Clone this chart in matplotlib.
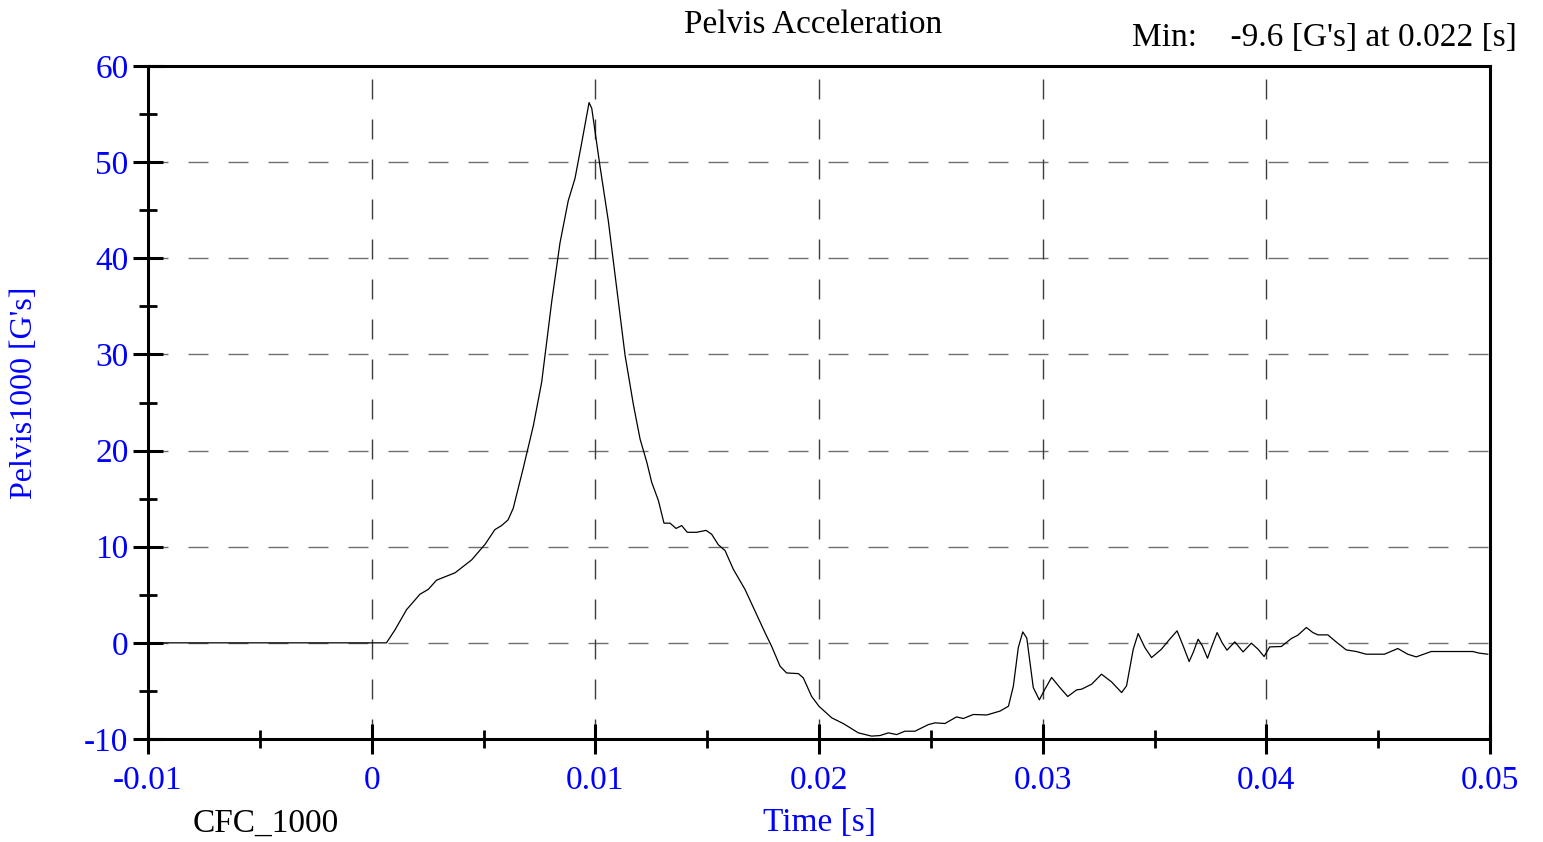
import numpy as np
import matplotlib.pyplot as plt
from matplotlib.ticker import MultipleLocator, FixedFormatter, FixedLocator

# Pelvis acceleration trace (CFC 1000)
time_s = [
    -0.01, 0.0, 0.00066, 0.00104, 0.00156, 0.00216, 0.00253, 0.0029, 0.00373,
    0.00447, 0.00507, 0.00551, 0.00581, 0.0061, 0.00633, 0.00678, 0.00723,
    0.0076, 0.00805, 0.00842, 0.00879, 0.00909, 0.00939, 0.00972, 0.00984,
    0.0102, 0.01058, 0.01095, 0.01133, 0.0117, 0.012, 0.0123, 0.01252,
    0.01282, 0.01307, 0.01334, 0.01361, 0.01386, 0.01411, 0.01453, 0.01495,
    0.0152, 0.0155, 0.0158, 0.01617, 0.01669, 0.01714, 0.01759, 0.01788,
    0.01826, 0.01855, 0.01908, 0.0193, 0.01967, 0.02, 0.02057, 0.02109,
    0.02176, 0.02235, 0.02273, 0.0231, 0.02347, 0.02384, 0.02429, 0.02489,
    0.02519, 0.02563, 0.02615, 0.02645, 0.0269, 0.0275, 0.02809, 0.02847,
    0.02869, 0.02891, 0.02911, 0.02929, 0.02958, 0.02985, 0.0301, 0.0304,
    0.03077, 0.03112, 0.03152, 0.03174, 0.03219, 0.03263, 0.03308, 0.03353,
    0.03375, 0.03405, 0.03427, 0.03457, 0.03487, 0.03531, 0.03568, 0.03601,
    0.03628, 0.03655, 0.03673, 0.03695, 0.03714, 0.03737, 0.03757, 0.0378,
    0.03802, 0.03824, 0.03859, 0.03896, 0.03933, 0.03963, 0.0399, 0.04015,
    0.04067, 0.04112, 0.04141, 0.04179, 0.04208, 0.04231, 0.04275, 0.04312,
    0.04357, 0.04402, 0.04446, 0.04528, 0.04588, 0.04632, 0.0467, 0.04737,
    0.04923, 0.04952, 0.0499,
]
accel_g = [
    0.0, 0.0, 0.0, 1.34, 3.45, 5.06, 5.56, 6.52, 7.29,
    8.63, 10.25, 11.78, 12.2, 12.8, 14.0, 18.2, 22.6,
    27.1, 35.5, 41.6, 46.0, 48.3, 52.0, 56.2, 55.6,
    49.7, 43.9, 37.0, 29.9, 24.8, 21.2, 18.8, 16.7,
    14.8, 12.45, 12.45, 11.9, 12.2, 11.5, 11.5, 11.7,
    11.3, 10.2, 9.6, 7.65, 5.57, 3.3, 1.04, -0.35,
    -2.43, -3.13, -3.2, -3.65, -5.57, -6.6, -7.8, -8.4,
    -9.36, -9.7, -9.64, -9.36, -9.54, -9.19, -9.19, -8.5,
    -8.32, -8.39, -7.7, -7.87, -7.45, -7.5, -7.1, -6.59,
    -4.5, -0.5, 1.14, 0.5, -4.65, -5.93, -4.82, -3.6,
    -4.65, -5.58, -4.89, -4.82, -4.3, -3.26, -4.06, -5.17,
    -4.47, -0.66, 0.97, -0.49, -1.53, -0.66, 0.38, 1.25,
    -0.31, -1.94, -1.0, 0.38, -0.31, -1.6, -0.31, 1.07,
    0.03, -0.76, 0.1, -0.94, -0.03, -0.66, -1.42, -0.42,
    -0.38, 0.45, 0.8, 1.6, 1.07, 0.83, 0.83, 0.1,
    -0.73, -0.9, -1.18, -1.18, -0.59, -1.18, -1.46, -0.9,
    -0.9, -1.07, -1.18,
]

x_ticks = [-0.01, 0, 0.01, 0.02, 0.03, 0.04, 0.05]
x_labels = ["-0.01", "0", "0.01", "0.02", "0.03", "0.04", "0.05"]
y_ticks = [-10, 0, 10, 20, 30, 40, 50, 60]

BLUE = "#0000ff"
FONT = "Liberation Serif"
FS = 24

plt.rcParams['font.family'] = [FONT, 'DejaVu Serif']
plt.rcParams['lines.scale_dashes'] = False
plt.rcParams['axes.unicode_minus'] = False

fig = plt.figure(figsize=(15.43, 8.42), dpi=100)
ax = fig.add_axes([148 / 1543, 1 - 739 / 842, (1490 - 148) / 1543, (739 - 66) / 842])

ax.plot(time_s, accel_g, color="black", lw=0.9)

ax.set_xlim(-0.01, 0.05)
ax.set_ylim(-10, 60)

ax.xaxis.set_major_locator(FixedLocator(x_ticks))
ax.xaxis.set_major_formatter(FixedFormatter(x_labels))
ax.xaxis.set_minor_locator(MultipleLocator(0.005))
ax.yaxis.set_major_locator(FixedLocator(y_ticks))
ax.yaxis.set_minor_locator(MultipleLocator(5))

ax.tick_params(which="major", direction="inout", length=22, width=2.2,
               labelsize=FS, labelcolor=BLUE)
ax.tick_params(which="minor", direction="inout", length=13, width=2.0)
ax.tick_params(axis="x", which="major", pad=8)
ax.tick_params(axis="y", which="major", pad=3)

for sp in ax.spines.values():
    sp.set_linewidth(2.2)

# dashed grid: horizontal lighter, vertical darker
for y in y_ticks[1:-1]:
    ax.axhline(y, color="#6e6e6e", lw=1.0, linestyle=(0, (14.4, 14.4)), zorder=0.5)
for x in x_ticks[1:-1]:
    ax.axvline(x, color="#3c3c3c", lw=1.0, linestyle=(0, (14.4, 14.4)), zorder=0.5)

fig.text(25 / 1543, 1 - 393 / 842, "Pelvis1000 [G's]", fontsize=FS - 1,
         rotation=90, ha="center", va="center", color=BLUE)

fig.text(813 / 1543, 1 - 25 / 842, "Pelvis Acceleration", fontsize=FS,
         ha="center", va="center", color="black")
fig.text(1517 / 1543, 1 - 38 / 842, "Min:    -9.6 [G's] at 0.022 [s]",
         fontsize=FS, ha="right", va="center", color="black")
fig.text(819 / 1543, 1 - 823 / 842, "Time [s]", fontsize=FS,
         ha="center", va="center", color=BLUE)
fig.text(193 / 1543, 1 - 823 / 842, "CFC_1000", fontsize=FS,
         ha="left", va="center", color="black")

fig.savefig("out.png", dpi=100)
